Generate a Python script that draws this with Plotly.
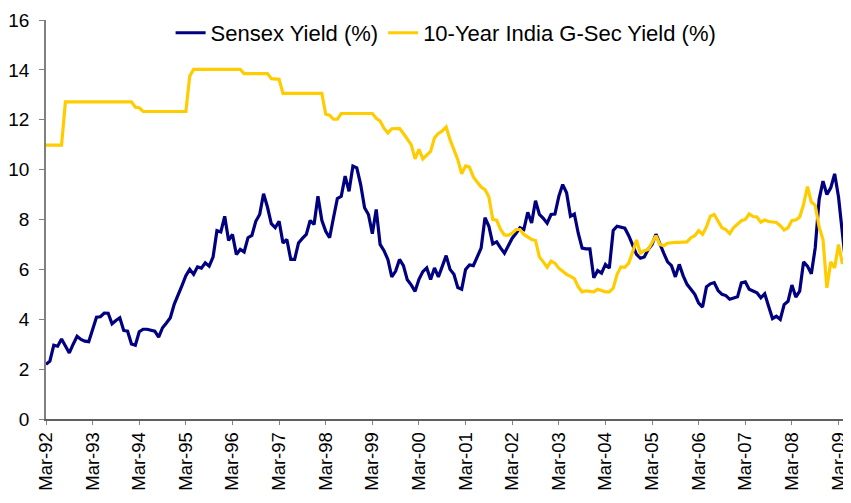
import plotly.graph_objects as go

# Monthly categories: Mar-92 .. Jun-09
month_names = ["Jan", "Feb", "Mar", "Apr", "May", "Jun",
               "Jul", "Aug", "Sep", "Oct", "Nov", "Dec"]
months = []
_y, _m = 1992, 2
for _ in range(208):
    months.append(f"{month_names[_m]}-{_y % 100:02d}")
    _m += 1
    if _m == 12:
        _m, _y = 0, _y + 1

tick_labels = ["Mar-92", "Mar-93", "Mar-94", "Mar-95", "Mar-96", "Mar-97",
               "Mar-98", "Mar-99", "Mar-00", "Mar-01", "Mar-02", "Mar-03",
               "Mar-04", "Mar-05", "Mar-06", "Mar-07", "Mar-08", "Mar-09"]

sensex_yield = [
    2.19, 2.32, 2.96, 2.92, 3.21, 2.95, 2.65, 3.00, 3.32, 3.19,
    3.12, 3.10, 3.60, 4.08, 4.10, 4.25, 4.24, 3.82, 3.95, 4.06,
    3.55, 3.52, 3.01, 2.96, 3.50, 3.60, 3.60, 3.55, 3.52, 3.28,
    3.66, 3.85, 4.06, 4.60, 4.95, 5.35, 5.75, 6.00, 5.80, 6.10,
    6.05, 6.26, 6.13, 6.49, 7.55, 7.50, 8.13, 7.16, 7.40, 6.60,
    6.80, 6.70, 7.27, 7.36, 7.93, 8.20, 9.03, 8.50, 7.83, 7.67,
    7.93, 7.06, 7.20, 6.40, 6.40, 7.06, 7.24, 7.40, 7.96, 7.80,
    8.93, 7.97, 7.53, 7.27, 8.07, 8.84, 8.93, 9.74, 9.13, 10.14,
    10.07, 9.40, 8.47, 8.20, 7.43, 8.40, 7.00, 6.75, 6.40, 5.70,
    5.93, 6.40, 6.15, 5.58, 5.38, 5.12, 5.60, 5.91, 6.06, 5.59,
    6.06, 5.70, 6.12, 6.55, 6.00, 5.80, 5.27, 5.20, 6.00, 6.18,
    6.15, 6.50, 6.85, 8.07, 7.73, 7.02, 7.10, 6.86, 6.65, 6.95,
    7.25, 7.45, 7.67, 7.60, 8.29, 7.86, 8.75, 8.20, 8.05, 7.85,
    8.20, 8.22, 8.93, 9.40, 9.07, 8.13, 8.22, 7.45, 6.85, 6.82,
    6.82, 5.66, 5.95, 5.85, 6.20, 6.05, 7.56, 7.73, 7.70, 7.65,
    7.35, 6.95, 6.60, 6.45, 6.50, 6.80, 7.00, 7.41, 7.00, 6.65,
    6.30, 6.15, 5.70, 6.20, 5.75, 5.40, 5.20, 5.00, 4.65, 4.49,
    5.30, 5.42, 5.47, 5.15, 5.00, 4.95, 4.80, 4.86, 4.90, 5.46,
    5.50, 5.20, 5.13, 5.06, 4.86, 5.02, 4.52, 4.03, 4.12, 3.99,
    4.59, 4.72, 5.37, 4.89, 5.13, 6.30, 6.13, 5.82, 6.86, 8.80,
    9.54, 9.00, 9.27, 9.83, 8.90, 7.30, 6.00, 5.93,
]

gsec_yield = [
    10.98, 10.98, 10.98, 10.98, 10.98, 12.72, 12.72, 12.72, 12.72, 12.72,
    12.72, 12.72, 12.72, 12.72, 12.72, 12.72, 12.72, 12.72, 12.72, 12.72,
    12.72, 12.72, 12.72, 12.50, 12.48, 12.33, 12.33, 12.33, 12.33, 12.33,
    12.33, 12.33, 12.33, 12.33, 12.33, 12.33, 12.33, 13.75, 14.02, 14.02,
    14.02, 14.02, 14.02, 14.02, 14.02, 14.02, 14.02, 14.02, 14.02, 14.02,
    14.02, 13.85, 13.85, 13.85, 13.85, 13.85, 13.85, 13.85, 13.65, 13.62,
    13.62, 13.06, 13.06, 13.06, 13.06, 13.06, 13.06, 13.06, 13.06, 13.06,
    13.06, 13.06, 12.22, 12.18, 12.02, 12.02, 12.25, 12.25, 12.25, 12.25,
    12.25, 12.25, 12.25, 12.25, 12.25, 12.06, 11.95, 11.66, 11.47, 11.64,
    11.65, 11.65, 11.45, 11.25, 11.00, 10.43, 10.81, 10.43, 10.58, 10.73,
    11.28, 11.45, 11.55, 11.71, 11.20, 10.78, 10.40, 9.83, 10.15, 10.10,
    9.71, 9.50, 9.30, 9.20, 8.90, 8.00, 7.97, 7.60, 7.38, 7.36,
    7.45, 7.60, 7.60, 7.40, 7.28, 7.20, 7.16, 6.50, 6.30, 6.08,
    6.33, 6.25, 6.05, 5.92, 5.80, 5.72, 5.63, 5.30, 5.10, 5.14,
    5.13, 5.10, 5.20, 5.15, 5.10, 5.10, 5.25, 5.80, 6.10, 6.08,
    6.25, 6.70, 7.18, 6.65, 6.75, 6.80, 7.10, 7.35, 7.00, 6.95,
    7.05, 7.08, 7.08, 7.08, 7.08, 7.10, 7.27, 7.35, 7.55, 7.40,
    7.70, 8.13, 8.20, 7.90, 7.67, 7.60, 7.43, 7.68, 7.83, 7.95,
    8.00, 8.22, 8.12, 8.10, 7.89, 7.98, 7.92, 7.90, 7.88, 7.75,
    7.58, 7.67, 7.96, 7.98, 8.10, 8.60, 9.32, 8.70, 8.57, 7.70,
    7.20, 5.26, 6.30, 6.06, 7.00, 6.22, 6.72, 7.00,
]

n = min(len(months), len(sensex_yield), len(gsec_yield))

fig = go.Figure()
fig.add_trace(go.Scatter(
    x=months[:n], y=sensex_yield[:n], mode="lines",
    name="Sensex Yield (%)",
    line=dict(color="#000080", width=3.2),
))
fig.add_trace(go.Scatter(
    x=months[:n], y=gsec_yield[:n], mode="lines",
    name="10-Year India G-Sec Yield (%)",
    line=dict(color="#FFCC00", width=3.2),
))

# The page body adds an 8px margin on every side; size the figure so the
# page fits the 851x503 window exactly.
fig.update_layout(
    width=835, height=487,
    margin=dict(l=38, r=0, t=12, b=75.5, autoexpand=False),
    paper_bgcolor="white", plot_bgcolor="white",
    font=dict(family="Liberation Sans, Arial, sans-serif", size=19, color="#000000"),
    showlegend=True,
    legend=dict(orientation="h", x=0.502, xanchor="center",
                y=0.9675, yanchor="middle",
                font=dict(size=22), bgcolor="rgba(0,0,0,0)",
                itemwidth=30, tracegroupgap=0),
)
fig.update_xaxes(
    type="category", categoryorder="array", categoryarray=months,
    range=[0, 205.15], automargin=False,
    tickmode="array", tickvals=tick_labels, ticktext=tick_labels,
    tickangle=-90, ticks="outside", ticklen=4, tickcolor="#808080",
    showline=True, linecolor="#606060", linewidth=1.5,
    showgrid=False, zeroline=False, tickfont=dict(size=18.5),
)
fig.update_yaxes(
    range=[0, 16], tick0=0, dtick=2, automargin=False,
    ticks="outside", ticklen=5, tickcolor="#808080",
    showline=True, linecolor="#808080", linewidth=1.5,
    showgrid=False, zeroline=False, tickfont=dict(size=19),
    ticklabelstandoff=6,
)

fig.write_html("out.html")
